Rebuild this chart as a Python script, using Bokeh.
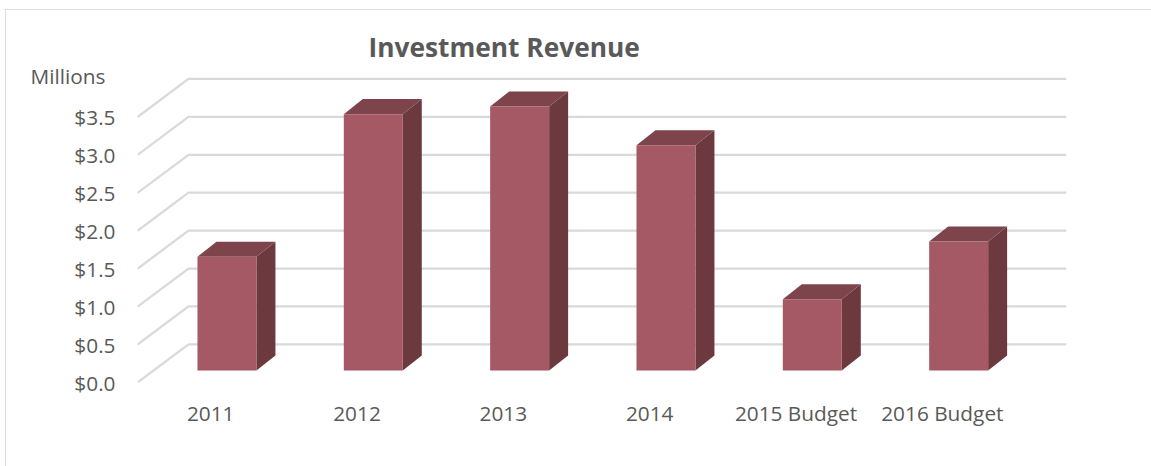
from bokeh.embed import file_html
from bokeh.resources import INLINE
from bokeh.plotting import figure
from bokeh.models import Range1d, FixedTicker, Title, LinearAxis

categories = ["2011", "2012", "2013", "2014", "2015 Budget", "2016 Budget"]
values = [1.50, 3.38, 3.48, 2.97, 0.94, 1.70]
y_ticks = [0.0, 0.5, 1.0, 1.5, 2.0, 2.5, 3.0, 3.5]
y_labels = ["$0.0", "$0.5", "$1.0", "$1.5", "$2.0", "$2.5", "$3.0", "$3.5"]
unit_label = "Millions"

# pixel scale: 146.4 px per category, 75.6 px per unit
WALL_DX, WALL_DY = 51 / 146.4, 38 / 75.6
BAR_DX, BAR_DY = 19 / 146.4, 15 / 75.6
BAR_LEFT, BAR_W, BAR_BASE = 60 / 146.4, 59 / 146.4, 12 / 75.6
UNIT_Y = 305.5 / 75.6
N = len(categories)
TEXT = "#595959"
GRID = "#d9d9d9"
FONT = "Open Sans"

p = figure(width=1151, height=466, output_backend="svg", toolbar_location=None,
           x_range=Range1d(0, N + WALL_DX), y_range=Range1d(0, 321 / 75.6),
           min_border_left=137, min_border_right=85, min_border_top=60, min_border_bottom=84,
           background_fill_color="white", border_fill_color="white", outline_line_color=None)
p.styles = {"position": "absolute", "left": "0px", "top": "0px"}
p.stylesheets = [":host::after {content: ''; position: absolute; left: 5px; top: 9px; right: -20px; bottom: -20px;"
                 " border: 1.5px solid #dcdcdc; pointer-events: none;}"]
p.grid.visible = False

# axes
p.yaxis.ticker = FixedTicker(ticks=y_ticks)
p.yaxis.major_label_overrides = dict(zip(y_ticks, y_labels))
p.xaxis.ticker = FixedTicker(ticks=[i + 0.5 for i in range(N)])
p.xaxis.major_label_overrides = {i + 0.5: c for i, c in enumerate(categories)}
unit_axis = LinearAxis(ticker=FixedTicker(ticks=[UNIT_Y]), major_label_overrides={UNIT_Y: unit_label})
p.add_layout(unit_axis, "left")
for ax, standoff in ((p.xaxis[0], 10), (p.yaxis[0], 16), (unit_axis, -40)):
    ax.axis_line_color = None
    ax.major_tick_line_color = None
    ax.minor_tick_line_color = None
    ax.major_label_text_font = FONT
    ax.major_label_text_font_size = "20.8px"
    ax.major_label_text_color = TEXT
    ax.major_label_standoff = standoff

# gridlines on back wall and side wall
p.multi_line([[0, WALL_DX, N + WALL_DX] for t in y_ticks],
             [[t, t + WALL_DY, t + WALL_DY] for t in y_ticks],
             line_color=GRID, line_width=2.2, line_join="miter")

# bars
def quads(fn):
    return [fn(i, v)[0] for i, v in enumerate(values)], [fn(i, v)[1] for i, v in enumerate(values)]

def front(i, v):
    l, r = i + BAR_LEFT, i + BAR_LEFT + BAR_W
    return [l, r, r, l], [BAR_BASE, BAR_BASE, BAR_BASE + v, BAR_BASE + v]

def side(i, v):
    r = i + BAR_LEFT + BAR_W
    return [r, r + BAR_DX, r + BAR_DX, r], [BAR_BASE, BAR_BASE + BAR_DY, BAR_BASE + BAR_DY + v, BAR_BASE + v]

def top(i, v):
    l, r = i + BAR_LEFT, i + BAR_LEFT + BAR_W
    t = BAR_BASE + v
    return [l, r, r + BAR_DX, l + BAR_DX], [t, t, t + BAR_DY, t + BAR_DY]

for fn, color in ((side, "#6b393e"), (top, "#7d444b"), (front, "#a45964")):
    xs, ys = quads(fn)
    p.patches(xs, ys, fill_color=color, line_color=None)

# title
p.add_layout(Title(text="Investment Revenue", align="left", offset=231, standoff=-8,
                   text_font=FONT, text_font_style="bold", text_font_size="26.3px", text_color=TEXT), "above")

open("out.html", "w").write(file_html(p, INLINE))
